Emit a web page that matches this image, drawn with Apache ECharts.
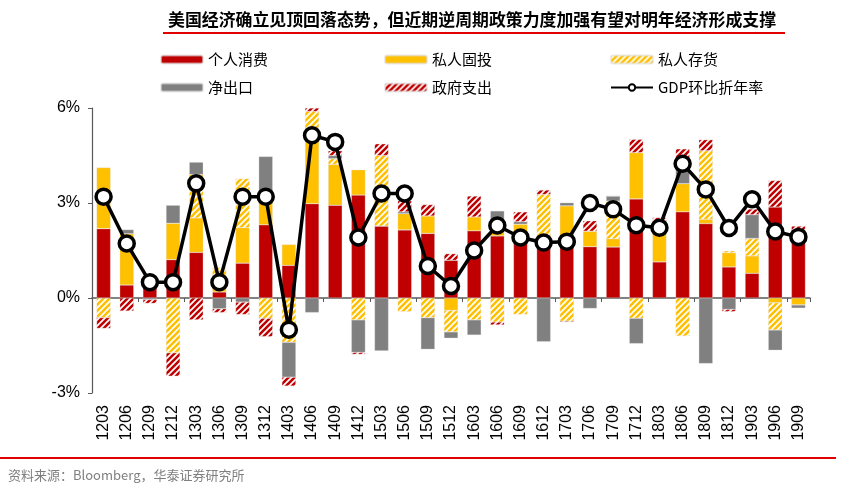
<!DOCTYPE html>
<html><head><meta charset="utf-8">
<script src="https://cdn.jsdelivr.net/npm/echarts@6/dist/echarts.min.js"></script>
<style>html,body{margin:0;padding:0;background:#fff}#c{width:850px;height:503px}</style>
</head><body><div id="c"></div>
<script>
var categories = ['1203','1206','1209','1212','1303','1306','1309','1312','1403','1406','1409','1412','1503','1506','1509','1512','1603','1606','1609','1612','1703','1706','1709','1712','1803','1806','1809','1812','1903','1906','1909'];
var consumption = [2.19,0.41,0.35,1.21,1.44,0.19,1.10,2.31,1.03,2.98,2.93,3.25,2.27,2.15,2.04,1.19,2.12,1.96,2.00,1.80,1.85,1.62,1.61,3.13,1.14,2.72,2.35,0.98,0.78,2.87,2.08];
var fixedInvest = [1.93,1.62,0.30,1.15,1.09,0.30,1.12,0.90,0.66,2.34,1.29,0.80,0,0.51,0.55,-0.39,0.44,0.30,0.33,0,1.06,0.49,0.26,1.46,1.29,0.89,0.14,0.45,0.55,-0.15,-0.22];
var inventory = [-0.62,0,0,-1.73,1.37,0.47,1.55,-0.64,-1.40,0.57,0.18,-0.69,2.23,-0.43,-0.62,-0.68,-0.69,-0.76,-0.52,1.47,-0.73,0,1.19,-0.64,0,-1.20,2.16,0.06,0.55,-0.86,0];
var netExports = [0,0.13,-0.05,0.57,0.39,-0.34,-0.13,1.26,-1.10,-0.46,0.10,-1.03,-1.67,0.06,-1.00,-0.20,-0.48,0.49,0.08,-1.38,0.10,-0.33,0.16,-0.80,0,0.70,-2.07,-0.36,0.75,-0.64,-0.10];
var government = [-0.34,-0.41,-0.12,-0.74,-0.69,-0.12,-0.39,-0.58,-0.28,0.11,0.15,-0.06,0.37,0.35,0.36,0.21,0.66,-0.09,0.31,0.14,-0.03,0.33,0,0.42,0.11,0.40,0.35,-0.07,0.18,0.84,0.19];
var gdp = [3.2,1.72,0.5,0.5,3.62,0.5,3.2,3.2,-1.0,5.14,4.93,1.91,3.3,3.3,1.01,0.38,1.5,2.29,1.91,1.75,1.78,3.0,2.8,2.3,2.22,4.24,3.43,2.21,3.12,2.1,1.93];
var yTicks = [-3, 0, 3, 6];

function hatch(color) {
  var s = 6, cv = document.createElement('canvas');
  cv.width = s; cv.height = s;
  var ctx = cv.getContext('2d');
  ctx.fillStyle = '#fff'; ctx.fillRect(0, 0, s, s);
  ctx.strokeStyle = color; ctx.lineWidth = 2.6; ctx.lineCap = 'square';
  ctx.beginPath();
  ctx.moveTo(0, s); ctx.lineTo(s, 0);
  ctx.moveTo(-s/2, s/2); ctx.lineTo(s/2, -s/2);
  ctx.moveTo(s/2, s*1.5); ctx.lineTo(s*1.5, s/2);
  ctx.stroke();
  return {image: cv, repeat: 'repeat'};
}
var RED = '#C00000', YEL = '#FFC000', GRY = '#808080';
var cjk = '"Noto Sans CJK SC", sans-serif';
var chart = echarts.init(document.getElementById('c'), null, {renderer: 'canvas'});
function bar(name, data, color) {
  return {name: name, type: 'bar', stack: 'a', data: data, barWidth: 14,
    itemStyle: {color: color, borderColor: 'rgba(220,220,220,0.6)', borderWidth: 0.5}};
}
var legendCommon = {orient: 'vertical', itemWidth: 42, itemHeight: 8, itemGap: 13,
  textStyle: {fontFamily: cjk, fontSize: 15, color: '#000'}, selectedMode: false};
chart.setOption({
  animation: false,
  backgroundColor: '#fff',
  grid: {left: 92, right: 40, top: 108, bottom: 110},
  legend: [
    Object.assign({left: 155, top: 47, data: ['个人消费', '净出口']}, legendCommon),
    Object.assign({left: 379, top: 47, data: ['私人固投', '政府支出']}, legendCommon),
    Object.assign({left: 605, top: 47, data: ['私人存货', 'GDP环比折年率']}, legendCommon)
  ],
  xAxis: [
    {type: 'category', data: categories, position: 'bottom',
      axisLine: {show: false, onZero: false}, axisTick: {show: false},
      axisLabel: {rotate: 90, fontSize: 16, color: '#000', margin: 12, fontFamily: '"Liberation Sans", Arial', interval: 0}},
    {type: 'category', data: categories, position: 'top',
      axisLine: {show: true, onZero: true, lineStyle: {color: '#595959', width: 1.5}},
      axisTick: {show: true, inside: true, length: 4, lineStyle: {color: '#595959'}},
      axisLabel: {show: false}}
  ],
  yAxis: {type: 'value', min: yTicks[0], max: yTicks[yTicks.length - 1], interval: 3,
    axisLine: {show: true, lineStyle: {color: '#595959', width: 1.2}},
    axisTick: {show: true, length: 4, lineStyle: {color: '#595959'}},
    splitLine: {show: false},
    axisLabel: {formatter: '{value}%', fontSize: 16, color: '#000', margin: 12, fontFamily: '"Liberation Sans", Arial'}},
  series: [
    bar('个人消费', consumption, RED),
    bar('私人固投', fixedInvest, YEL),
    bar('私人存货', inventory, hatch(YEL)),
    bar('净出口', netExports, GRY),
    bar('政府支出', government, hatch(RED)),
    {name: 'GDP环比折年率', type: 'line', data: gdp, z: 5, color: '#000',
      symbol: 'circle', symbolSize: 15,
      lineStyle: {color: '#000', width: 3.5},
      itemStyle: {color: '#fff', borderColor: '#000', borderWidth: 3.5}}
  ],
  graphic: [
    {type: 'text', left: 168, top: 11, style: {text: '美国经济确立见顶回落态势，但近期逆周期政策力度加强有望对明年经济形成支撑',
      font: 'bold 16.9px "Noto Sans CJK SC"', fill: '#000'}},
    {type: 'line', shape: {x1: 163, y1: 33, x2: 785, y2: 33}, style: {stroke: '#E00000', lineWidth: 2}},
    {type: 'line', shape: {x1: 0, y1: 458, x2: 836, y2: 458}, style: {stroke: '#E00000', lineWidth: 2}},
    {type: 'text', left: 8, top: 469, style: {text: '资料来源：Bloomberg，华泰证券研究所', font: '13px "Noto Sans CJK SC"', fill: '#7f7f7f'}}
  ]
});
</script></body></html>
